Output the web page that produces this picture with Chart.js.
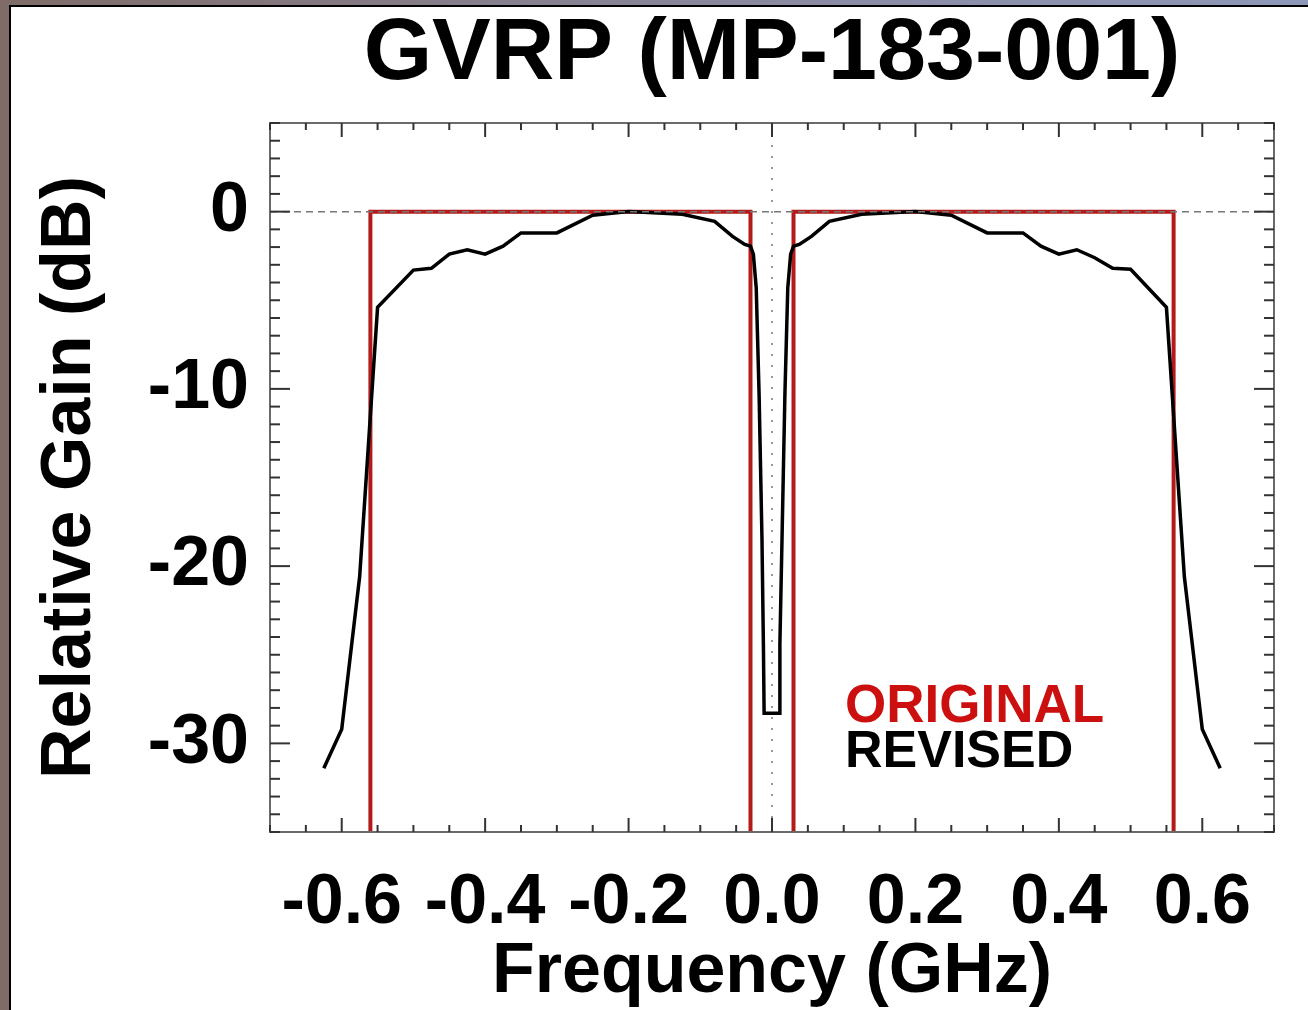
<!DOCTYPE html>
<html lang="en">
<head>
  <meta charset="UTF-8">
  <title>GVRP (MP-183-001)</title>
  <style>
    body {
      margin: 0;
      width: 1308px;
      height: 1010px;
      overflow: hidden;
      background: linear-gradient(to right, #7f6c68, #8a8aa2 60%, #8e98b8);
    }
    #panel {
      position: absolute;
      left: 9px;
      top: 5px;
      right: 0;
      bottom: 0;
      background: #fff;
      border-left: 2px solid #000;
      border-top: 2px solid #000;
    }
    #gainChart {
      position: absolute;
      left: 0;
      top: 0;
    }
  </style>
</head>
<body>
  <div id="panel"></div>
  <canvas id="gainChart" width="1308" height="1010"></canvas>

  <script src="https://cdn.jsdelivr.net/npm/chart.js"></script>
  <script>
    // Original filter: ideal double passband (values below -35 dB run off the plot)
    const originalFreq = [-0.56, -0.56, -0.03, -0.03, 0.03, 0.03, 0.56, 0.56];
    const originalGain = [-40, 0, 0, -40, -40, 0, 0, -40];

    const revisedFreq = [
      -0.625, -0.6, -0.575, -0.55, -0.5, -0.475, -0.45, -0.425, -0.4, -0.375,
      -0.35, -0.3, -0.25, -0.2, -0.125, -0.08, -0.055, -0.038, -0.03, -0.026,
      -0.022, -0.018, -0.014, -0.012, -0.011,
      0.01, 0.011, 0.014, 0.018, 0.022, 0.026, 0.03, 0.038, 0.055, 0.08,
      0.125, 0.2, 0.25, 0.3, 0.35, 0.375, 0.4, 0.425, 0.45, 0.475,
      0.5, 0.55, 0.575, 0.6, 0.625
    ];
    const revisedGain = [
      -31.4, -29.2, -20.6, -5.4, -3.3, -3.2, -2.4, -2.15, -2.4, -1.95,
      -1.2, -1.2, -0.2, 0, -0.15, -0.55, -1.4, -1.85, -1.95, -2.4,
      -4.3, -10.3, -18.4, -24.4, -28.3,
      -28.3, -24.4, -18.4, -10.3, -4.3, -2.4, -1.95, -1.85, -1.4, -0.55,
      -0.15, 0, -0.2, -1.2, -1.2, -1.95, -2.4, -2.15, -2.6, -3.2,
      -3.25, -5.4, -20.6, -29.2, -31.4
    ];

    const xTickLabels = [-0.6, -0.4, -0.2, 0.0, 0.2, 0.4, 0.6];
    const yTickLabels = [0, -10, -20, -30];
    const xRange = [-0.7, 0.7];
    const yRange = [-35, 5];
    const xMinorStep = 0.05, xMajorStep = 0.2;
    const yMinorStep = 1, yMajorStep = 10;

    const RED_LINE = '#b41a1a';
    const RED_TEXT = '#cc1010';
    const FONT = "'Liberation Sans', Helvetica, Arial, sans-serif";

    const toPoints = (xs, ys) => xs.map((v, i) => ({ x: v, y: ys[i] }));

    // inward ticks on all four sides, zero lines and the coloured legend words
    const frameTicks = {
      id: 'frameTicks',
      afterDatasetsDraw(chart) {
        const { ctx, chartArea: a, scales: { x, y } } = chart;
        const seg = (x1, y1, x2, y2) => {
          ctx.beginPath(); ctx.moveTo(x1, y1); ctx.lineTo(x2, y2); ctx.stroke();
        };
        ctx.save();

        ctx.strokeStyle = '#777';
        ctx.lineWidth = 1.5;
        ctx.setLineDash([7, 5]);
        const y0 = y.getPixelForValue(0);
        seg(a.left, y0, a.right, y0);
        ctx.setLineDash([2, 9]);
        const x0 = x.getPixelForValue(0);
        seg(x0, a.top, x0, a.bottom);
        ctx.setLineDash([]);

        ctx.strokeStyle = '#6a6a6a';
        ctx.lineWidth = 2;
        ctx.strokeRect(a.left, a.top, a.width, a.height);

        ctx.strokeStyle = '#333';
        for (let i = 0; ; i++) {
          const v = xRange[0] + i * xMinorStep;
          if (v > xRange[1] + 1e-9) break;
          const r = v / xMajorStep;
          const len = Math.abs(r - Math.round(r)) < 1e-6 ? 14 : 7;
          const px = x.getPixelForValue(v);
          seg(px, a.bottom, px, a.bottom - len);
          seg(px, a.top, px, a.top + len);
        }
        for (let i = 0; ; i++) {
          const v = yRange[0] + i * yMinorStep;
          if (v > yRange[1] + 1e-9) break;
          const len = v % yMajorStep === 0 ? 20 : 10;
          const py = y.getPixelForValue(v);
          seg(a.left, py, a.left + len, py);
          seg(a.right, py, a.right - len, py);
        }

        ctx.textAlign = 'left';
        ctx.textBaseline = 'alphabetic';
        ctx.font = 'bold 53px ' + FONT;
        ctx.fillStyle = RED_TEXT;
        ctx.fillText('ORIGINAL', a.left + 575, a.top + 599);
        ctx.font = 'bold 52px ' + FONT;
        ctx.fillStyle = '#000';
        ctx.fillText('REVISED', a.left + 575, a.top + 644);
        ctx.restore();
      }
    };

    Chart.defaults.font.family = FONT;
    Chart.defaults.color = '#000';

    new Chart(document.getElementById('gainChart'), {
      type: 'scatter',
      data: {
        datasets: [
          {
            label: 'REVISED',
            data: toPoints(revisedFreq, revisedGain),
            showLine: true,
            borderColor: '#000',
            borderWidth: 3.5,
            pointRadius: 0,
            tension: 0
          },
          {
            label: 'ORIGINAL',
            data: toPoints(originalFreq, originalGain),
            showLine: true,
            borderColor: RED_LINE,
            borderWidth: 4,
            pointRadius: 0,
            tension: 0
          }
        ]
      },
      options: {
        responsive: false,
        animation: false,
        devicePixelRatio: 1,
        layout: { padding: { left: 0, top: 0, right: 34, bottom: 0 } },
        plugins: {
          legend: { display: false },
          tooltip: { enabled: false },
          title: {
            display: true,
            text: 'GVRP (MP-183-001)',
            fullSize: false,
            color: '#000',
            font: { size: 88, weight: 'bold', lineHeight: 1.2 },
            padding: { top: 2, bottom: 15.4 }
          }
        },
        scales: {
          x: {
            type: 'linear',
            min: xRange[0],
            max: xRange[1],
            grid: { display: false },
            border: { display: false },
            afterBuildTicks: s => { s.ticks = xTickLabels.map(v => ({ value: v })); },
            afterFit: s => { s.height = 178; },
            ticks: {
              font: { size: 70, weight: 'bold' },
              padding: 22,
              maxRotation: 0,
              autoSkip: false,
              callback: v => (Math.round(v * 10) / 10).toFixed(1).replace('-0.0', '0.0')
            },
            title: {
              display: true,
              text: 'Frequency (GHz)',
              font: { size: 70, weight: 'bold', lineHeight: 1 },
              padding: { top: 0, bottom: 2 }
            }
          },
          y: {
            type: 'linear',
            min: yRange[0],
            max: yRange[1],
            grid: { display: false },
            border: { display: false },
            afterBuildTicks: s => { s.ticks = yTickLabels.map(v => ({ value: v })); },
            afterFit: s => { s.width = 270; },
            ticks: {
              font: { size: 70, weight: 'bold' },
              padding: 13,
              autoSkip: false,
              callback: v => String(v)
            },
            title: {
              display: true,
              text: 'Relative Gain (dB)',
              font: { size: 70, weight: 'bold', lineHeight: 1 },
              padding: { top: 36, bottom: 0 }
            }
          }
        }
      },
      plugins: [frameTicks]
    });
  </script>
</body>
</html>
